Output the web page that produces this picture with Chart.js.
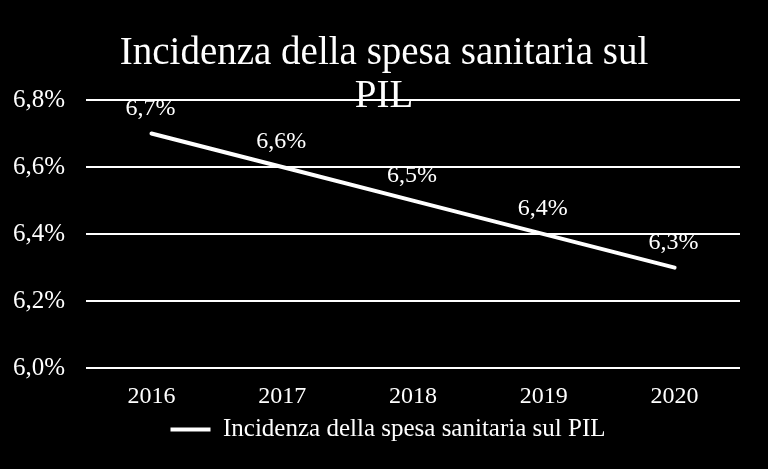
<!DOCTYPE html>
<html>
<head>
<meta charset="utf-8">
<script src="https://cdn.jsdelivr.net/npm/chart.js@4/dist/chart.umd.min.js"></script>
<style>
  html, body { margin: 0; padding: 0; background: #000; }
  #wrap { width: 768px; height: 469px; }
</style>
</head>
<body>
<div id="wrap"><canvas id="spesaChart" width="768" height="469"></canvas></div>
<script>
// incidenza della spesa sanitaria sul PIL, 2016-2020

const years = ['2016', '2017', '2018', '2019', '2020'];
const incidenza = [6.7, 6.6, 6.5, 6.4, 6.3];
const titleLines = ['Incidenza della spesa sanitaria sul', 'PIL'];
const seriesLabel = 'Incidenza della spesa sanitaria sul PIL';

const serif = "'Liberation Serif', 'DejaVu Serif', serif";

function pct(v) {
    return v.toFixed(1).replace('.', ',') + '%';
}

// title drawn by hand, it sits over the top gridline like in the original
const titlePlugin = {
    id: 'overTitle',
    afterDraw(chart) {
        const ctx = chart.ctx;
        ctx.save();
        ctx.fillStyle = '#fff';
        ctx.font = '39px ' + serif;
        ctx.textAlign = 'center';
        ctx.textBaseline = 'alphabetic';
        ctx.fillText(titleLines[0], chart.width / 2, 64);
        ctx.fillText(titleLines[1], chart.width / 2, 107);
        ctx.restore();
    }
};

// value labels above each point
const valueLabels = {
    id: 'valueLabels',
    afterDatasetsDraw(chart) {
        const ctx = chart.ctx;
        const meta = chart.getDatasetMeta(0);
        ctx.save();
        ctx.fillStyle = '#fff';
        ctx.font = '24px ' + serif;
        ctx.textAlign = 'center';
        ctx.textBaseline = 'middle';
        meta.data.forEach((pt, i) => {
            ctx.fillText(pct(incidenza[i]), pt.x - 1, pt.y - 25);
        });
        ctx.restore();
    }
};

// legend in the original is centred a bit right of the plot, nudge it
const legendNudge = {
    id: 'legendNudge',
    afterLayout(chart) {
        if (chart.legend) {
            chart.legend.left += 22;
            chart.legend.right += 22;
        }
    }
};

new Chart(document.getElementById('spesaChart').getContext('2d'), {
    type: 'line',
    data: {
        labels: years,
        datasets: [{
            label: seriesLabel,
            data: incidenza,
            borderColor: '#fff',
            backgroundColor: '#fff',
            borderWidth: 4,
            borderCapStyle: 'round',
            pointRadius: 0,
            tension: 0
        }]
    },
    options: {
        responsive: false,
        animation: false,
        layout: { padding: { top: 100, left: -8, right: 28, bottom: 17 } },
        scales: {
            x: {
                offset: true,
                grid: { display: false },
                border: { display: false },
                ticks: { color: '#fff', font: { family: serif, size: 24 }, padding: 6 }
            },
            y: {
                min: 6.0,
                max: 6.8,
                border: { display: false },
                grid: { color: '#fff', lineWidth: 2, drawTicks: false },
                ticks: {
                    stepSize: 0.2,
                    color: '#fff',
                    padding: 21,
                    font: { family: serif, size: 25 },
                    callback: v => pct(v)
                }
            }
        },
        plugins: {
            title: { display: false },
            tooltip: { enabled: false },
            legend: {
                position: 'bottom',
                labels: {
                    color: '#fff',
                    font: { family: serif, size: 25, lineHeight: 1 },
                    usePointStyle: true,
                    pointStyle: 'line',
                    pointStyleWidth: 40,
                    padding: 0
                }
            }
        }
    },
    plugins: [titlePlugin, valueLabels, legendNudge]
});
</script>
</body>
</html>
